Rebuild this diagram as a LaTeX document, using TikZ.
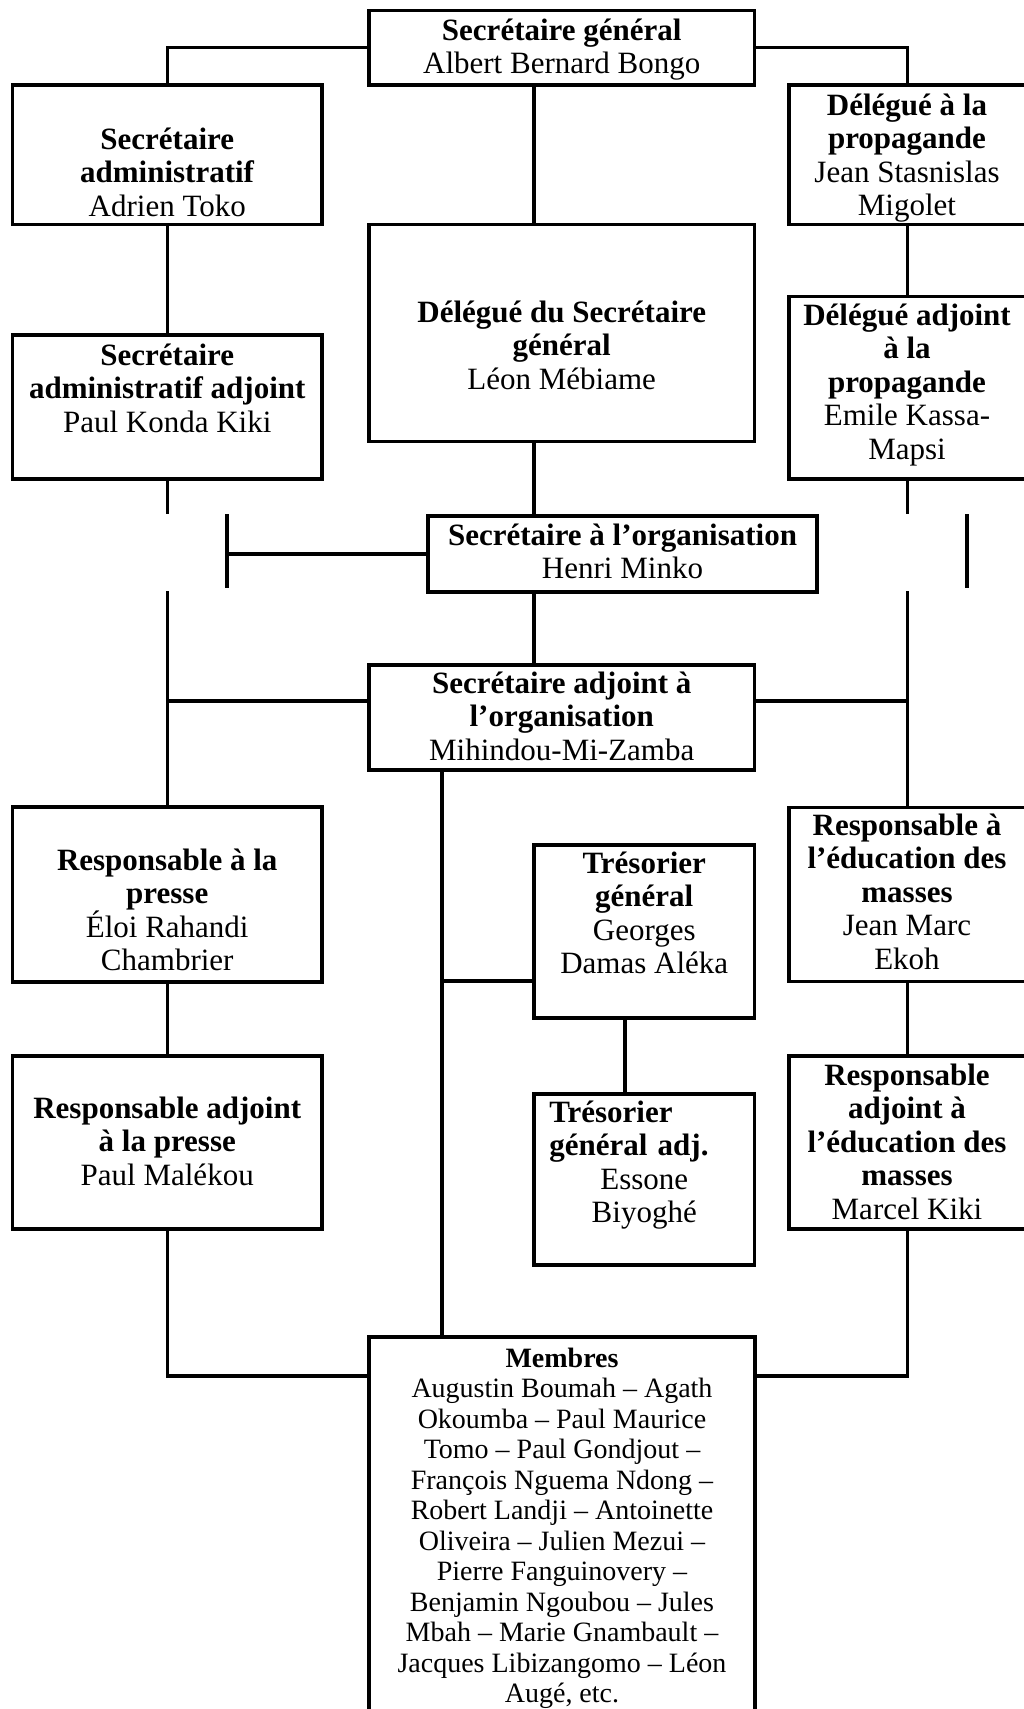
\documentclass[tikz,border=0pt]{standalone}
\usepackage{fontspec}
\setmainfont{Liberation Serif}
\usetikzlibrary{calc}
\newcommand{\myStrut}{\rule{0pt}{30pt}}
\newcommand{\myStrutM}{\rule{0pt}{27pt}}
\tikzset{
  box/.style={draw, rectangle, line width=3.3pt, inner sep=0pt},
  txt/.style={anchor=north, inner sep=0pt, align=center, font=\fontsize{31}{33.5}\selectfont},
  memtxt/.style={anchor=north, inner sep=0pt, align=center, font=\fontsize{28}{30.5}\selectfont},
  conn/.style={line width=3.3pt, line join=miter}
}
\begin{document}
\begin{tikzpicture}[x=1pt,y=-1pt]
\useasboundingbox (0,0) rectangle (1024,1709);
\fill[white] (0,0) rectangle (1024,1709);

% boxes
\node[box, minimum width=385.5pt, minimum height=74.5pt] (sg) at (561.75,47.75) {};
\node[box, minimum width=309.5pt, minimum height=139.5pt] (sa) at (167.25,154.75) {};
\node[box, minimum width=309.5pt, minimum height=144pt] (saa) at (167.25,407) {};
\node[box, minimum width=385.5pt, minimum height=217pt] (dsg) at (561.75,333) {};
\node[box, minimum width=237pt, minimum height=139.5pt] (dp) at (907.5,154.75) {};
\node[box, minimum width=237pt, minimum height=182.3pt] (dap) at (907.5,387.85) {};
\node[box, minimum width=389pt, minimum height=76pt] (so) at (622.5,554) {};
\node[box, minimum width=385.5pt, minimum height=105pt] (sao) at (561.75,717.5) {};
\node[box, minimum width=309.5pt, minimum height=175pt] (rp) at (167.25,894.5) {};
\node[box, minimum width=309.5pt, minimum height=173pt] (rap) at (167.25,1142.5) {};
\node[box, minimum width=220.5pt, minimum height=173pt] (tg) at (644.25,931.5) {};
\node[box, minimum width=220.5pt, minimum height=171pt] (tadj) at (644.25,1179.5) {};
\node[box, minimum width=237pt, minimum height=174pt] (rem) at (907.5,894.5) {};
\node[box, minimum width=237pt, minimum height=173pt] (raem) at (907.5,1142.5) {};
\node[box, minimum width=386pt, minimum height=393pt] (mem) at (562,1533.5) {};

% texts
\node[txt] (sgT) at (561.75,10) {\myStrut\textbf{Secrétaire général}\\Albert Bernard Bongo};
\node[txt] (saT) at (167.25,119) {\myStrut\textbf{Secrétaire}\\\textbf{administratif}\\Adrien Toko};
\node[txt] (saaT) at (167.25,335) {\myStrut\textbf{Secrétaire}\\\textbf{administratif adjoint}\\Paul Konda Kiki};
\node[txt] (dsgT) at (561.75,292) {\myStrut\textbf{Délégué du Secrétaire}\\\textbf{général}\\Léon Mébiame};
\node[txt] (dpT) at (907,85) {\myStrut\textbf{Délégué à la}\\\textbf{propagande}\\Jean Stasnislas\\Migolet};
\node[txt] (dapT) at (907,295) {\myStrut\textbf{Délégué adjoint}\\\textbf{à la}\\\textbf{propagande}\\Emile Kassa-\\Mapsi};
\node[txt] (soT) at (622.5,515) {\myStrut\textbf{Secrétaire à l’organisation}\\Henri Minko};
\node[txt] (saoT) at (561.75,663) {\myStrut\textbf{Secrétaire adjoint à}\\\textbf{l’organisation}\\Mihindou-Mi-Zamba};
\node[txt] (rpT) at (167.25,840) {\myStrut\textbf{Responsable à la}\\\textbf{presse}\\Éloi Rahandi\\Chambrier};
\node[txt] (rapT) at (167.25,1088) {\myStrut\textbf{Responsable adjoint}\\\textbf{à la presse}\\Paul Malékou};
\node[txt] (tgT) at (644.25,843) {\myStrut\textbf{Trésorier}\\\textbf{général}\\Georges\\Damas Aléka};
\node[txt, align=left, text width=190pt] (tadjT) at (644.25,1092) {\myStrut\textbf{Trésorier}\\\textbf{général adj.}\\\makebox[190pt]{Essone}\\\makebox[190pt]{Biyoghé}};
\node[txt] (remT) at (907,805) {\myStrut\textbf{Responsable à}\\\textbf{l’éducation des}\\\textbf{masses}\\Jean Marc\\Ekoh};
\node[txt] (raemT) at (907,1055) {\myStrut\textbf{Responsable}\\\textbf{adjoint à}\\\textbf{l’éducation des}\\\textbf{masses}\\Marcel Kiki};
\node[memtxt] (memT) at (562,1340) {\myStrutM\textbf{Membres}\\Augustin Boumah – Agath\\Okoumba – Paul Maurice\\Tomo – Paul Gondjout –\\François Nguema Ndong –\\Robert Landji – Antoinette\\Oliveira – Julien Mezui –\\Pierre Fanguinovery –\\Benjamin Ngoubou – Jules\\Mbah – Marie Gnambault –\\Jacques Libizangomo – Léon\\Augé, etc.};

% helper coordinates
\coordinate (spineC) at (534,0);
\coordinate (spineM) at (442,0);
\coordinate (tgx) at (625,0);
\coordinate (gapTop) at (0,514);
\coordinate (gapBot) at (0,591);
\coordinate (hbar) at (0,701);
\coordinate (tgy) at (0,981);
\coordinate (hbot) at (0,1376);
\coordinate (barLa) at (227,514);
\coordinate (barLb) at (227,588);
\coordinate (barRa) at (967,514);
\coordinate (barRb) at (967,588);

% connectors
\draw[conn] (sg.west) -| (sa.north);
\draw[conn] (sg.east) -| (dp.north);
\draw[conn] (spineC |- sg.south) -- (spineC |- dsg.north);
\draw[conn] (sa.south) -- (saa.north);
\draw[conn] (dp.south) -- (dap.north);
\draw[conn] (saa.south) -- (saa.south |- gapTop);
\draw[conn] (dap.south) -- (dap.south |- gapTop);
\draw[conn] (spineC |- dsg.south) -- (spineC |- so.north);
\draw[conn] (so.west) -- (barLa |- so.west);
\draw[conn] (barLa) -- (barLb);
\draw[conn] (barRa) -- (barRb);
\draw[conn] (spineC |- so.south) -- (spineC |- sao.north);
\draw[conn] (rp.north |- gapBot) -- (rp.north);
\draw[conn] (sao.west |- hbar) -- (rp.north |- hbar);
\draw[conn] (rem.north |- gapBot) -- (rem.north);
\draw[conn] (sao.east |- hbar) -- (rem.north |- hbar);
\draw[conn] (spineM |- sao.south) -- (spineM |- mem.north);
\draw[conn] (spineM |- tgy) -- (tg.west |- tgy);
\draw[conn] (tgx |- tg.south) -- (tgx |- tadj.north);
\draw[conn] (rp.south) -- (rap.north);
\draw[conn] (rem.south) -- (raem.north);
\draw[conn] (rap.south) |- (mem.west |- hbot);
\draw[conn] (raem.south) |- (mem.east |- hbot);
\end{tikzpicture}
\end{document}
